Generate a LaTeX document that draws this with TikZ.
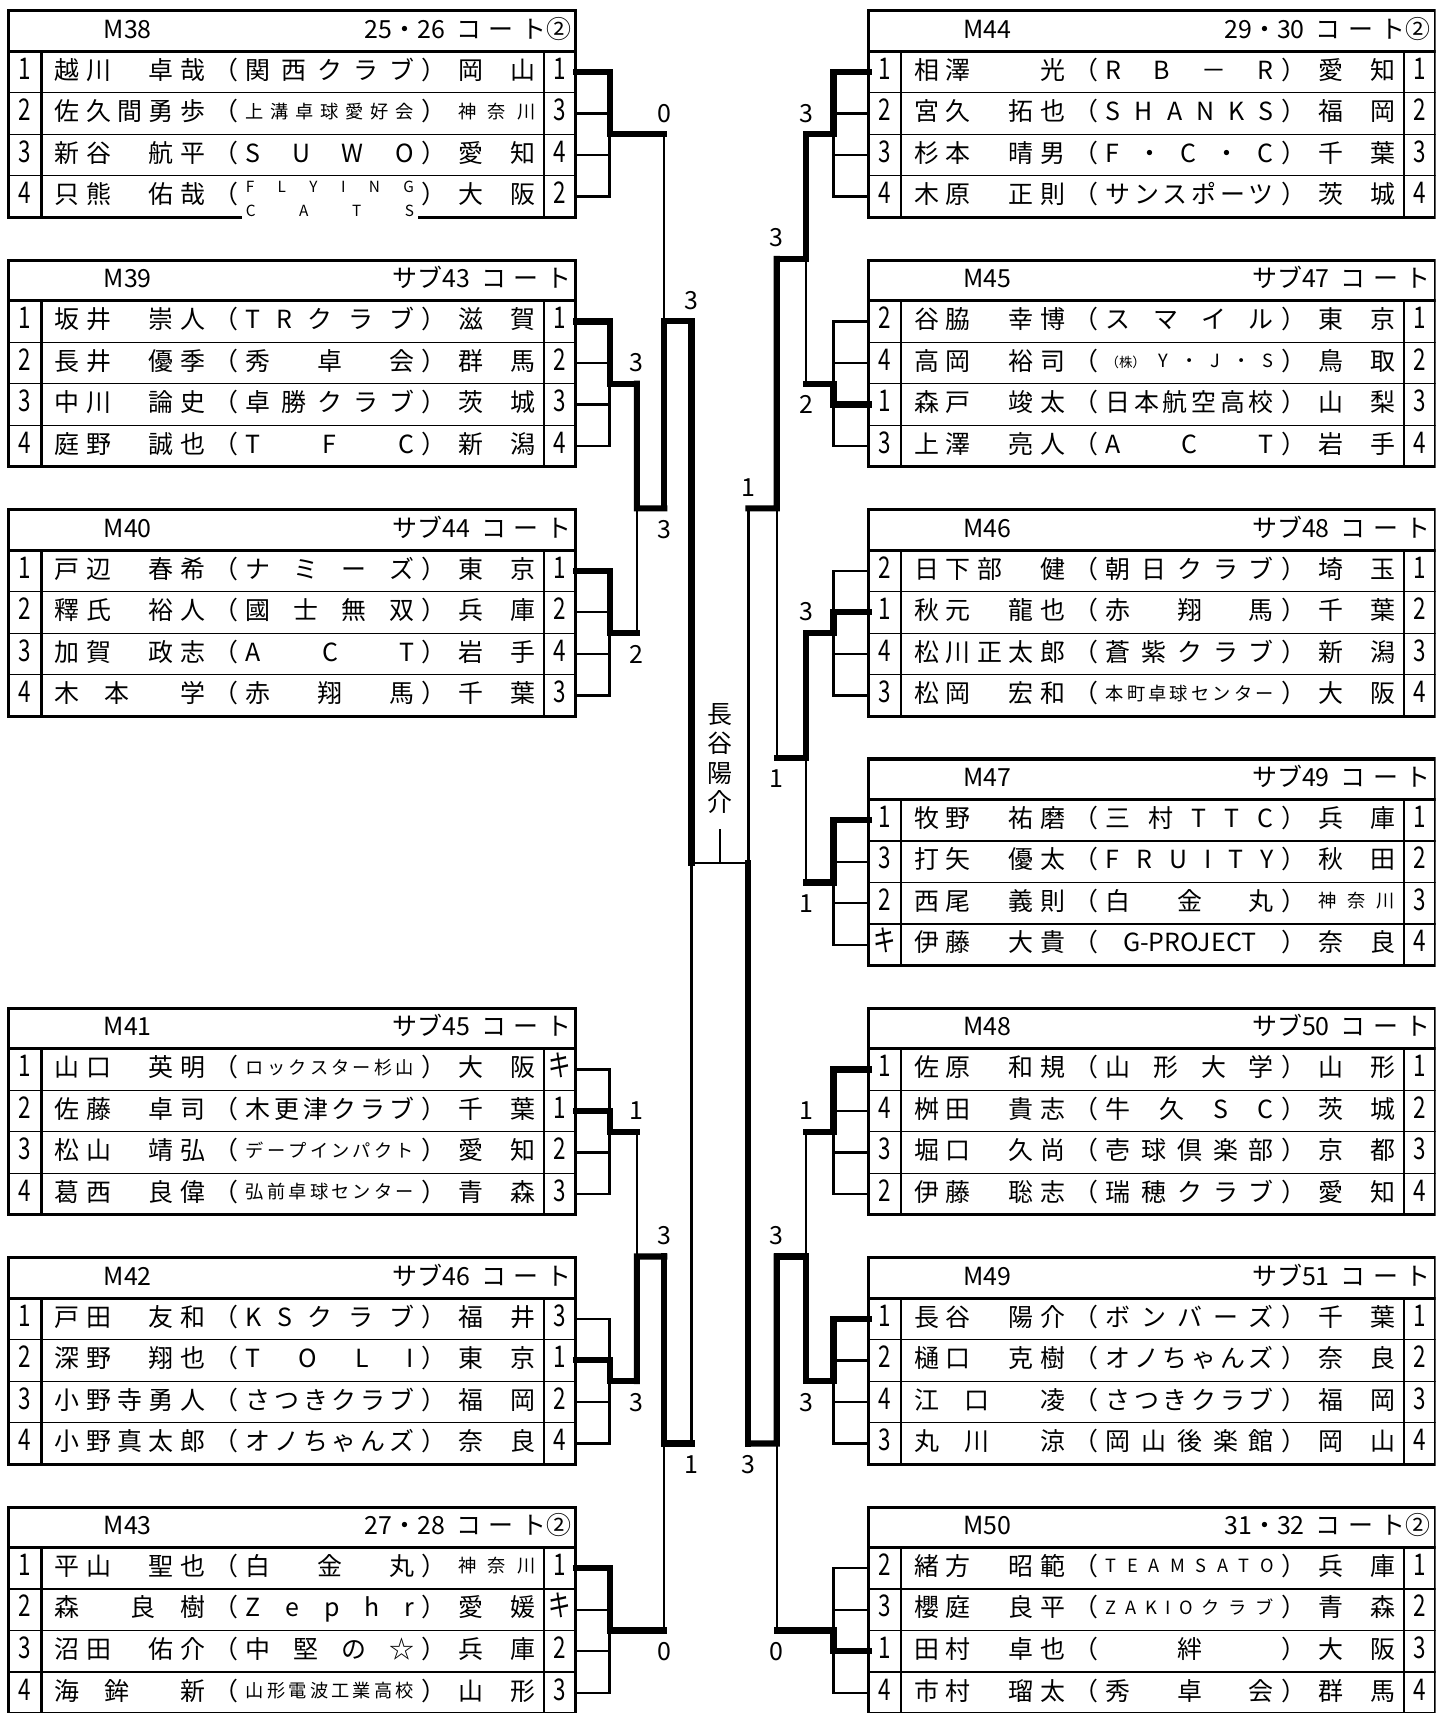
\documentclass[tikz,border=0pt]{standalone}
\usepackage{fontspec}
\setmainfont{Noto Sans CJK JP}
\usetikzlibrary{positioning, calc}

\newcommand{\letra}{\fontsize{13}{15}\selectfont}
\newcommand{\chico}{\fontsize{9.5}{11}\selectfont}
% reparto uniforme de los caracteres en una caja
\newcommand{\reparto}[2]{{\spaceskip=0pt plus 1fil\xspaceskip=0pt plus 1fil\makebox[#1][s]{#2}}}
\newcommand{\pequeno}[2]{\raisebox{1.3pt}{\reparto{#1}{\chico #2}}}
\newcommand{\club}[1]{（\hspace{0.14cm}\reparto{3.08cm}{#1}\hspace{0.14cm}）}
\newcommand{\cancha}[1]{#1\hspace{0.45em}コ\hspace{0.3em}ー\hspace{0.3em}ト}
\newcommand{\cifra}[1]{\scalebox{0.9}[1.2]{#1}}

% Tabla de un grupo: nombre, x, y, cancha, filas
\newcommand{\tabla}[5]{%
  \begin{scope}[shift={(#2,#3)}]
    \foreach \k in {1,2,3}
      \draw[fila] (0,37+38*\k) -- (519,37+38*\k);
    \draw[columna] (30,37) -- (30,189);
    \draw[columna] (490,37) -- (490,189);
    \draw[marco] (0,37) -- (519,37);
    \draw[marco] (0,0) rectangle (519,189);
    \node[texto] (#1-t) at (109,18.5) {#1};
    \node[texto, anchor=east] (#1-s) at (515,18.5) {#4};
    \coordinate (#1-m) at (259.5,113);
    \foreach \izq/\nom/\equipo/\pref/\der [count=\i] in {#5} {
      \coordinate (#1-w\i) at (0,18+38*\i);
      \coordinate (#1-e\i) at (519,18+38*\i);
      \node[texto] (#1-a\i) at (15,18+38*\i) {\cifra{\izq}};
      \node[texto] (#1-n\i) at (111,18+38*\i) {\reparto{2.76cm}{\nom}};
      \node[texto] (#1-c\i) at (294,18+38*\i) {\club{\equipo}};
      \node[texto] (#1-p\i) at (447,18+38*\i) {\reparto{1.4cm}{\pref}};
      \node[texto] (#1-b\i) at (504.5,18+38*\i) {\cifra{\der}};
    }
  \end{scope}}

% Llave del grupo: nombre, lado, columna, ganador, llegada
\newcommand{\grupo}[5]{%
  \foreach \i in {1,...,4}
    \draw[fino] (#1-#2\i) -- (#3 |- #1-#2\i);
  \draw[fino] (#3 |- #1-#21) -- (#3 |- #1-#24);
  \draw[grueso] (#1-#2#4) -- (#3 |- #1-#2#4) -- (#3 |- #1-m) -- (#5);}

\begin{document}
\begin{tikzpicture}[x=0.02cm, y=-0.02cm, font=\letra]
		% Estilos
		\tikzset{
			marco/.style={line width=1.6pt},
			fila/.style={line width=0.6pt},
			columna/.style={line width=1.1pt},
			texto/.style={inner sep=0pt, text height=0.875em, text depth=0.125em},
			fino/.style={line width=1.2pt, line cap=rect},
			grueso/.style={line width=3.2pt, line cap=rect},
			marcador/.style={inner sep=1pt},
			campeon/.style={align=center, inner sep=8.5pt, font=\fontsize{13}{15.3}\selectfont}
		}
		\useasboundingbox (0,0) rectangle (1314,1568);
		\clip (0,0) rectangle (1314,1568);

		% Grupos de la izquierda
		\tabla{M38}{8}{10}{\cancha{25・26}②}{%
1/越 川 　 卓 哉/関 西 ク ラ ブ/岡 山/1,
2/佐 久 間 勇 歩/\pequeno{3.08cm}{上 溝 卓 球 愛 好 会}/\pequeno{1.4cm}{神 奈 川}/3,
3/新 谷 　 航 平/S U W O/愛 知/4,
4/只 熊 　 佑 哉/\hfill/大 阪/2}
		\node[texto, font=\fontsize{8}{8}\selectfont, yshift=6pt] (flying) at (M38-c4) {\reparto{3.08cm}{F L Y I N G}};
		\node[texto, font=\fontsize{8}{8}\selectfont, fill=white, inner xsep=2pt, inner ysep=3pt, yshift=-6.5pt] (cats) at (M38-c4) {\reparto{3.08cm}{C A T S}};
		\tabla{M39}{8}{238.25}{\cancha{サブ43}}{%
1/坂 井 　 崇 人/T R ク ラ ブ/滋 賀/1,
2/長 井 　 優 季/秀 卓 会/群 馬/2,
3/中 川 　 論 史/卓 勝 ク ラ ブ/茨 城/3,
4/庭 野 　 誠 也/T F C/新 潟/4}
		\tabla{M40}{8}{466.5}{\cancha{サブ44}\hspace{0.3cm}}{%
1/戸 辺 　 春 希/ナ ミ ー ズ/東 京/1,
2/釋 氏 　 裕 人/國 士 無 双/兵 庫/2,
3/加 賀 　 政 志/A C T/岩 手/4,
4/木 　 本 　 　 学/赤 翔 馬/千 葉/3}
		\tabla{M41}{8}{923}{\cancha{サブ45}}{%
1/山 口 　 英 明/\pequeno{3.08cm}{ロ ッ ク ス タ ー 杉 山}/大 阪/キ,
2/佐 藤 　 卓 司/木 更 津 ク ラ ブ/千 葉/1,
3/松 山 　 靖 弘/\pequeno{3.08cm}{デ ー プ イ ン パ ク ト}/愛 知/2,
4/葛 西 　 良 偉/\pequeno{3.08cm}{弘 前 卓 球 セ ン タ ー}/青 森/3}
		\tabla{M42}{8}{1151.25}{\cancha{サブ46}}{%
1/戸 田 　 友 和/K S ク ラ ブ/福 井/3,
2/深 野 　 翔 也/T O L I/東 京/1,
3/小 野 寺 勇 人/さ つ き ク ラ ブ/福 岡/2,
4/小 野 真 太 郎/オ ノ ち ゃ ん ズ/奈 良/4}
		\tabla{M43}{8}{1379.5}{\cancha{27・28}②}{%
1/平 山 　 聖 也/白 金 丸/\pequeno{1.4cm}{神 奈 川}/1,
2/森 　 　 良 　 樹/Z e p h r/愛 媛/キ,
3/沼 田 　 佑 介/中 堅 の ☆/兵 庫/2,
4/海 　 鉾 　 　 新/\pequeno{3.08cm}{山 形 電 波 工 業 高 校}/山 形/3}

		% Grupos de la derecha
		\tabla{M44}{795}{10}{\cancha{29・30}②}{%
1/相 澤 　 　 光/R B － R/愛 知/1,
2/宮 久 　 拓 也/S H A N K S/福 岡/2,
3/杉 本 　 晴 男/F ・ C ・ C/千 葉/3,
4/木 原 　 正 則/サ ン ス ポ ー ツ/茨 城/4}
		\tabla{M45}{795}{238.25}{\cancha{サブ47}}{%
2/谷 脇 　 幸 博/ス マ イ ル/東 京/1,
4/高 岡 　 裕 司/\pequeno{3.08cm}{{\fontsize{7}{8}\selectfont （株）} Y ・ J ・ S}/鳥 取/2,
1/森 戸 　 竣 太/日 本 航 空 高 校/山 梨/3,
3/上 澤 　 亮 人/A C T/岩 手/4}
		\tabla{M46}{795}{466.5}{\cancha{サブ48}}{%
2/日 下 部 　 健/朝 日 ク ラ ブ/埼 玉/1,
1/秋 元 　 龍 也/赤 翔 馬/千 葉/2,
4/松 川 正 太 郎/蒼 紫 ク ラ ブ/新 潟/3,
3/松 岡 　 宏 和/\pequeno{3.08cm}{本 町 卓 球 セ ン タ ー}/大 阪/4}
		\tabla{M47}{795}{694.75}{\cancha{サブ49}}{%
1/牧 野 　 祐 磨/三 村 T T C/兵 庫/1,
3/打 矢 　 優 太/F R U I T Y/秋 田/2,
2/西 尾 　 義 則/白 金 丸/\pequeno{1.4cm}{神 奈 川}/3,
キ/伊 藤 　 大 貴/\hfill G-PROJECT\hfill/奈 良/4}
		\tabla{M48}{795}{923}{\cancha{サブ50}}{%
1/佐 原 　 和 規/山 形 大 学/山 形/1,
4/桝 田 　 貴 志/牛 久 S C/茨 城/2,
3/堀 口 　 久 尚/壱 球 倶 楽 部/京 都/3,
2/伊 藤 　 聡 志/瑞 穂 ク ラ ブ/愛 知/4}
		\tabla{M49}{795}{1151.25}{\cancha{サブ51}}{%
1/長 谷 　 陽 介/ボ ン バ ー ズ/千 葉/1,
2/樋 口 　 克 樹/オ ノ ち ゃ ん ズ/奈 良/2,
4/江 　 口 　 　 凌/さ つ き ク ラ ブ/福 岡/3,
3/丸 　 川 　 　 涼/岡 山 後 楽 館/岡 山/4}
		\tabla{M50}{795}{1379.5}{\cancha{31・32}②}{%
2/緒 方 　 昭 範/\pequeno{3.08cm}{T E A M S A T O}/兵 庫/1,
3/櫻 庭 　 良 平/\pequeno{3.08cm}{Z A K I O ク ラ ブ}/青 森/2,
1/田 村 　 卓 也/\hfill 絆\hfill/大 阪/3,
4/市 村 　 瑠 太/秀 卓 会/群 馬/4}

		% Columnas de la llave
		\coordinate (cL1) at (558,0);
		\coordinate (cL2) at (583,0);
		\coordinate (cL3) at (608,0);
		\coordinate (cL4) at (633,0);
		\coordinate (cR1) at (763,0);
		\coordinate (cR2) at (738,0);
		\coordinate (cR3) at (711,0);
		\coordinate (cR4) at (685,0);
		\coordinate (F) at (659,790);
		\coordinate (FL) at (cL4 |- F);
		\coordinate (FR) at (cR4 |- F);

		% Puntos de llegada de cada grupo
		\coordinate (A38) at (cL3 |- M38-m);
		\foreach \g in {39,40,41,42}
			\coordinate (A\g) at (cL2 |- M\g-m);
		\coordinate (A43) at (cL3 |- M43-m);
		\foreach \g in {44,45,46,47,48,49}
			\coordinate (A\g) at (cR2 |- M\g-m);
		\coordinate (A50) at (cR3 |- M50-m);

		% Cruces
		\coordinate (J1) at ($(A39)!0.5!(A40)$);
		\coordinate (B1) at (cL3 |- J1);
		\coordinate (J2) at ($(A38)!0.5!(B1)$);
		\coordinate (C1) at (cL4 |- J2);
		\coordinate (J3) at ($(A41)!0.5!(A42)$);
		\coordinate (B2) at (cL3 |- J3);
		\coordinate (J4) at ($(B2)!0.5!(A43)$);
		\coordinate (C2) at (cL4 |- J4);
		\coordinate (J5) at ($(A44)!0.5!(A45)$);
		\coordinate (B3) at (cR3 |- J5);
		\coordinate (J6) at ($(A46)!0.5!(A47)$);
		\coordinate (B4) at (cR3 |- J6);
		\coordinate (J7) at ($(B3)!0.5!(B4)$);
		\coordinate (C3) at (cR4 |- J7);
		\coordinate (J8) at ($(A48)!0.5!(A49)$);
		\coordinate (B5) at (cR3 |- J8);
		\coordinate (J9) at ($(B5)!0.5!(A50)$);
		\coordinate (C4) at (cR4 |- J9);

		% Llaves de los grupos
		\grupo{M38}{e}{cL1}{1}{A38}
		\grupo{M39}{e}{cL1}{1}{A39}
		\grupo{M40}{e}{cL1}{1}{A40}
		\grupo{M41}{e}{cL1}{2}{A41}
		\grupo{M42}{e}{cL1}{2}{A42}
		\grupo{M43}{e}{cL1}{1}{A43}
		\grupo{M44}{w}{cR1}{1}{A44}
		\grupo{M45}{w}{cR1}{3}{A45}
		\grupo{M46}{w}{cR1}{2}{A46}
		\grupo{M47}{w}{cR1}{1}{A47}
		\grupo{M48}{w}{cR1}{1}{A48}
		\grupo{M49}{w}{cR1}{1}{A49}
		\grupo{M50}{w}{cR1}{3}{A50}

		% Llave final
		\draw[fino] (A39) -- (A40);
		\draw[grueso] (A39) -- (J1) -- (B1);
		\draw[fino] (A38) -- (B1);
		\draw[grueso] (B1) -- (J2) -- (C1);
		\draw[fino] (A41) -- (A42);
		\draw[grueso] (A42) -- (J3) -- (B2);
		\draw[fino] (B2) -- (A43);
		\draw[grueso] (B2) -- (J4) -- (C2);
		\draw[fino] (C1) -- (C2);
		\draw[grueso] (C1) -- (FL);
		\draw[fino] (A44) -- (A45);
		\draw[grueso] (A44) -- (J5) -- (B3);
		\draw[fino] (A46) -- (A47);
		\draw[grueso] (A46) -- (J6) -- (B4);
		\draw[fino] (B3) -- (B4);
		\draw[grueso] (B3) -- (J7) -- (C3);
		\draw[fino] (A48) -- (A49);
		\draw[grueso] (A49) -- (J8) -- (B5);
		\draw[fino] (B5) -- (A50);
		\draw[grueso] (B5) -- (J9) -- (C4);
		\draw[fino] (C3) -- (C4);
		\draw[grueso] (C4) -- (FR);
		\draw[fino] (FL) -- (FR);

		% Ganador
		\node[campeon, above=0.6cm of F] (campeon) {長\\谷\\陽\\介};
		\draw[fino] (F) -- (campeon.south);

		% Resultados
		\foreach \txt/\punto [count=\k] in {0/A38,3/A39,3/C1,1/A41,3/B2,3/A44,3/B3,3/A46,1/C3,1/A48,3/B5}
			\node[marcador, above=5pt] (sup\k) at (\punto) {\txt};
		\foreach \txt/\punto [count=\k] in {2/A40,3/B1,3/A42,0/A43,1/C2,2/A45,1/A47,1/B4,3/A49,0/A50,3/C4}
			\node[marcador, below=5pt] (inf\k) at (\punto) {\txt};
	\end{tikzpicture}
\end{document}
